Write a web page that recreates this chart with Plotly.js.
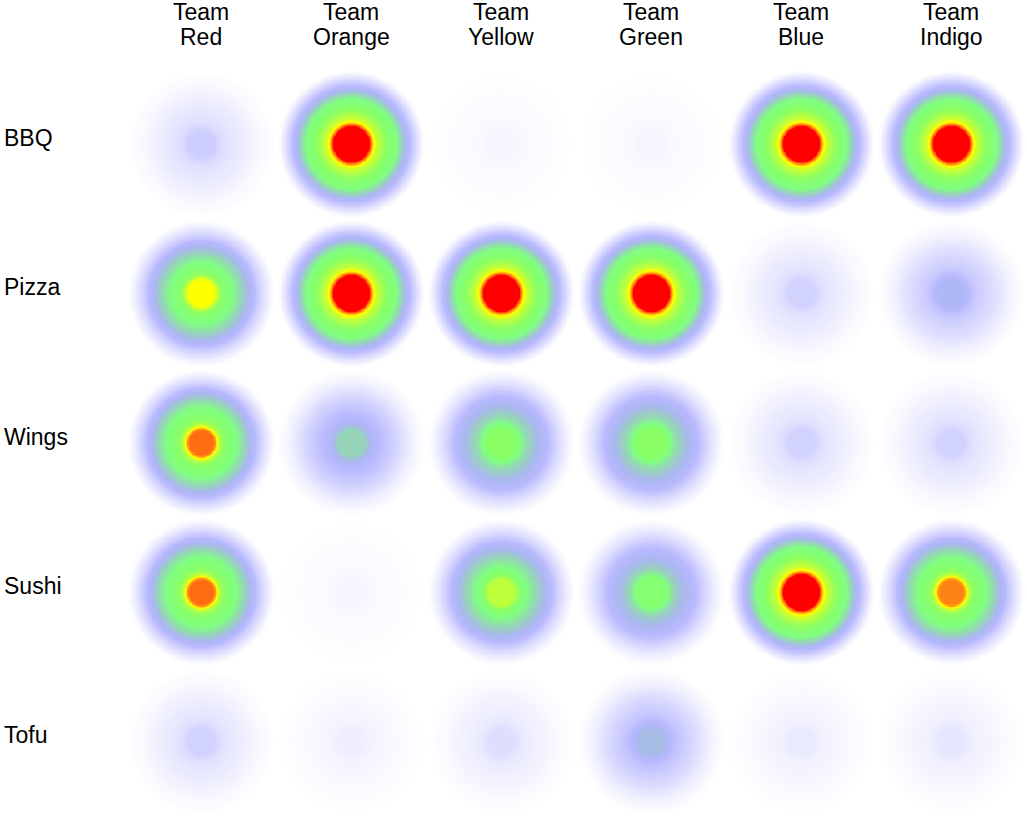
<!DOCTYPE html>
<html>
<head>
<meta charset="utf-8">
<script src="https://cdn.plot.ly/plotly-3.0.1.min.js"></script>
<style>html,body{margin:0;padding:0;background:#fff;}#chart{width:1027px;height:820px;}</style>
</head>
<body>
<div id="chart"></div>
<script>
// Categories
var teamPrefix = "Team";
var teams = ["Red", "Orange", "Yellow", "Green", "Blue", "Indigo"];
var foods = ["BBQ", "Pizza", "Wings", "Sushi", "Tofu"];

// Values per food (one per team, 0..1)
var bbq   = [0.13, 1.00, 0.03, 0.03, 1.00, 1.00];
var pizza = [0.68, 1.00, 1.00, 1.00, 0.12, 0.22];
var wings = [0.75, 0.30, 0.50, 0.50, 0.12, 0.12];
var sushi = [0.75, 0.03, 0.60, 0.45, 1.00, 0.74];
var tofu  = [0.12, 0.05, 0.09, 0.25, 0.06, 0.07];

var rows = [bbq, pizza, wings, sushi, tofu];

// Radial blob profile (style): knots as fraction of blob radius -> fraction of value
var profR = [0, 0.18, 0.22, 0.25, 0.34, 0.615, 0.795, 1.0];
var profV = [1, 1, 0.9, 0.78, 0.63, 0.38, 0.18, 0];
var blobRadius = 0.487; // in cell units

function profile(f) {
  if (f >= 1) return 0;
  for (var k = 1; k < profR.length; k++) {
    if (f <= profR[k]) {
      var t = (f - profR[k-1]) / (profR[k] - profR[k-1]);
      return profV[k-1] + t * (profV[k] - profV[k-1]);
    }
  }
  return 0;
}

var N = 60; // samples per cell
var nx = teams.length * N, ny = foods.length * N;
var xs = [], ys = [], z = [];
for (var i = 0; i < nx; i++) xs.push(-0.5 + (i + 0.5) / N);
for (var j = 0; j < ny; j++) ys.push(-0.5 + (j + 0.5) / N);
for (var j = 0; j < ny; j++) {
  var row = [];
  var ry = Math.round(ys[j]);
  for (var i = 0; i < nx; i++) {
    var cx = Math.round(xs[i]);
    var dx = xs[i] - cx, dy = (ys[j] - ry) * (149.5 / 150);
    var f = Math.sqrt(dx * dx + dy * dy) / blobRadius;
    row.push(rows[ry][cx] * profile(f));
  }
  z.push(row);
}

var colorscale = [
  [0.00, "rgb(255,255,255)"],
  [0.04, "rgb(242,242,255)"],
  [0.10, "rgb(218,218,255)"],
  [0.18, "rgb(184,184,255)"],
  [0.24, "rgb(170,184,238)"],
  [0.30, "rgb(150,212,185)"],
  [0.38, "rgb(128,255,128)"],
  [0.50, "rgb(138,255,100)"],
  [0.60, "rgb(190,255,60)"],
  [0.68, "rgb(255,255,0)"],
  [0.74, "rgb(255,130,20)"],
  [0.80, "rgb(255,0,0)"],
  [1.00, "rgb(255,0,0)"]
];

var trace = {
  type: "heatmap",
  x: xs, y: ys, z: z,
  zmin: 0, zmax: 1,
  zsmooth: "best",
  colorscale: colorscale,
  showscale: false,
  hoverinfo: "skip"
};

var font = {family: "Liberation Sans, Arial, sans-serif", size: 23, color: "#000"};

var plotTop = 69, plotH = 747, plotL = 126, plotW = 900;
function paperY(px) { return 1 + (plotTop - px) / plotH; }

var annotations = [];
foods.forEach(function (f, k) {
  annotations.push({text: f, xref: "paper", yref: "y", x: (2 - plotL) / plotW, y: k,
    xanchor: "left", yanchor: "middle", yshift: 6, showarrow: false, font: font});
});
teams.forEach(function (t, k) {
  annotations.push({text: teamPrefix, xref: "x", yref: "paper", x: k, y: paperY(12),
    xanchor: "center", yanchor: "middle", showarrow: false, font: font});
  annotations.push({text: t, xref: "x", yref: "paper", x: k, y: paperY(37),
    xanchor: "center", yanchor: "middle", showarrow: false, font: font});
});

var layout = {
  width: 1027, height: 820,
  margin: {l: plotL, r: 1, t: plotTop, b: 4},
  paper_bgcolor: "#fff", plot_bgcolor: "#fff",
  font: font,
  xaxis: {range: [-0.5, 5.5], showticklabels: false,
          showgrid: false, zeroline: false, showline: false, ticks: ""},
  yaxis: {range: [4.5, -0.5], showticklabels: false,
          showgrid: false, zeroline: false, showline: false, ticks: ""},
  annotations: annotations,
  showlegend: false
};

Plotly.newPlot("chart", [trace], layout, {staticPlot: true, displayModeBar: false});
</script>
</body>
</html>
